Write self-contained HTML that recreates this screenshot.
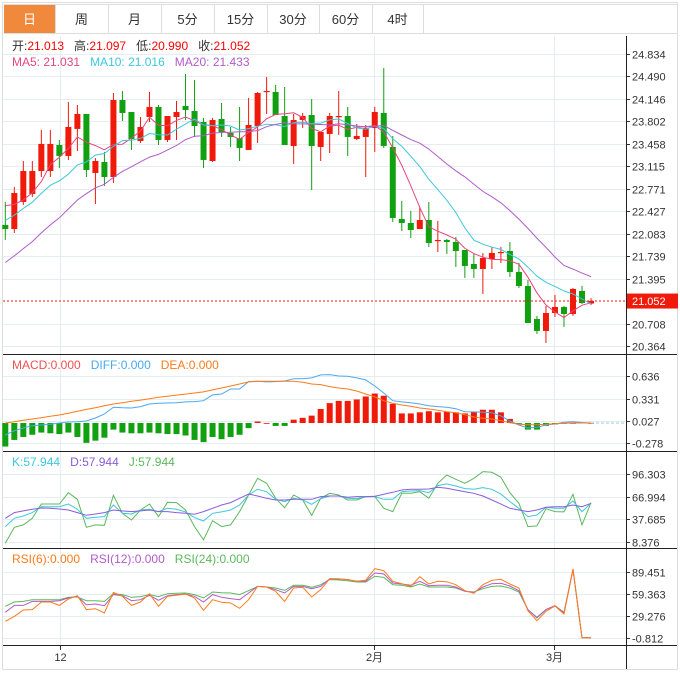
<!DOCTYPE html>
<html><head><meta charset="utf-8"><style>
body{margin:0;background:#fff;font-family:"Liberation Sans","Noto Sans CJK SC",sans-serif;}
svg{display:block}
text{font-family:"Liberation Sans","Noto Sans CJK SC",sans-serif;white-space:pre;}
</style></head><body>
<svg id="c" width="680" height="679" viewBox="0 0 680 679">
<rect x="2.5" y="2.5" width="675" height="667" fill="#fff" stroke="#ddd"/>
<g>
<rect x="4" y="4" width="51" height="30" fill="#f0893c"/>
<text x="29.5" y="24" fill="#fff" font-size="13" text-anchor="middle">日</text>
<line x1="4" y1="33.5" x2="677" y2="33.5" stroke="#ddd"/>
<line x1="4" y1="4.5" x2="677" y2="4.5" stroke="#ddd"/>
<g fill="#333" font-size="13" text-anchor="middle">
<text x="81.5" y="24">周</text>
<text x="134.5" y="24">月</text>
<text x="187.5" y="24">5分</text>
<text x="240.5" y="24">15分</text>
<text x="293" y="24">30分</text>
<text x="345.5" y="24">60分</text>
<text x="397.5" y="24">4时</text>
</g>
<g stroke="#ddd"><line x1="55.5" y1="4" x2="55.5" y2="33"/><line x1="108.5" y1="4" x2="108.5" y2="33"/><line x1="161.5" y1="4" x2="161.5" y2="33"/><line x1="214.5" y1="4" x2="214.5" y2="33"/><line x1="267.5" y1="4" x2="267.5" y2="33"/><line x1="319.5" y1="4" x2="319.5" y2="33"/><line x1="372.5" y1="4" x2="372.5" y2="33"/><line x1="423.5" y1="4" x2="423.5" y2="33"/></g>
</g>
<g id="grid"></g>
<g id="marks"></g>
<g font-size="12">
<text x="12" y="50" fill="#333" xml:space="preserve">开:<tspan fill="#f00">21.013</tspan>   高:<tspan fill="#f00">21.097</tspan>   低:<tspan fill="#f00">20.990</tspan>   收:<tspan fill="#f00">21.052</tspan></text>
<text x="12" y="66" xml:space="preserve"><tspan fill="#e8467c">MA5: 21.031</tspan>   <tspan fill="#3cc8dc">MA10: 21.016</tspan>   <tspan fill="#b05cc8">MA20: 21.433</tspan></text>
<text x="12" y="369" xml:space="preserve"><tspan fill="#f05050">MACD:0.000</tspan>   <tspan fill="#4aa8f0">DIFF:0.000</tspan>   <tspan fill="#ff7a1a">DEA:0.000</tspan></text>
<text x="12" y="466" xml:space="preserve"><tspan fill="#3cc8dc">K:57.944</tspan>   <tspan fill="#8a5cd8">D:57.944</tspan>   <tspan fill="#5cb85c">J:57.944</tspan></text>
<text x="12" y="563" xml:space="preserve"><tspan fill="#ff7a1a">RSI(6):0.000</tspan>   <tspan fill="#b05cc8">RSI(12):0.000</tspan>   <tspan fill="#5cb85c">RSI(24):0.000</tspan></text>
</g>
</svg>
<script>
const opens=[22.217,22.155,22.569,22.691,23.043,23.043,23.441,23.273,23.687,23.916,23.013,23.181,22.951,24.130,23.946,23.502,23.870,24.023,23.518,23.870,24.038,23.962,23.793,23.196,23.839,23.625,23.548,23.365,23.732,24.253,24.253,23.885,23.426,23.824,23.900,23.411,23.610,23.870,23.885,23.533,23.564,23.702,23.931,23.411,22.308,22.247,22.155,22.293,21.972,21.987,21.956,21.834,21.619,21.543,21.696,21.788,21.818,21.497,21.283,20.777,20.594,20.869,20.961,20.854,21.206,21.013];
const highs=[22.569,22.798,23.196,23.196,23.671,23.671,23.518,24.099,24.054,23.916,23.242,23.334,24.237,24.268,23.946,23.870,24.253,24.054,23.885,24.115,24.528,24.436,23.855,23.855,24.084,23.717,24.023,24.161,24.253,24.482,24.360,24.329,23.916,23.931,24.145,23.640,23.931,24.268,24.023,23.763,23.747,24.023,24.620,23.579,22.584,22.431,22.492,22.569,22.278,22.002,22.033,21.834,21.773,21.788,21.880,21.880,21.956,21.635,21.374,20.824,20.976,21.145,20.976,21.252,21.283,21.097];
const lows=[21.987,22.094,22.523,22.645,22.951,22.951,23.089,23.212,23.349,22.951,22.538,22.814,22.860,23.809,23.365,23.472,23.793,23.441,23.487,23.518,23.824,23.564,23.089,23.181,23.564,23.411,23.196,23.365,23.472,23.916,23.900,23.441,23.150,23.702,22.752,23.196,23.319,23.594,23.273,23.518,22.951,23.334,23.395,22.262,22.124,22.017,22.155,21.880,21.803,21.773,21.574,21.405,21.405,21.160,21.543,21.635,21.420,21.252,20.716,20.548,20.410,20.808,20.655,20.824,21.007,20.990];
const closes=[22.155,22.706,23.043,23.043,23.457,23.457,23.273,23.717,23.916,23.058,23.196,22.951,24.130,23.931,23.533,23.717,24.023,23.518,23.885,23.946,23.977,23.732,23.212,23.824,23.640,23.564,23.395,23.747,24.237,24.268,23.900,23.441,23.824,23.885,23.426,23.640,23.885,23.885,23.564,23.579,23.702,23.946,23.426,22.324,22.247,22.140,22.293,21.941,21.987,21.956,21.818,21.589,21.543,21.711,21.788,21.803,21.497,21.283,20.716,20.594,20.869,20.961,20.854,21.237,21.022,21.052];
const priorCloses=[20.7,20.8,20.9,20.8,21.0,21.1,21.0,21.2,21.1,21.4,21.9,22.0,22.1,22.1,22.2,22.6,22.7,22.5,22.6];
const priceTicks=[24.834,24.490,24.146,23.802,23.458,23.115,22.771,22.427,22.083,21.739,21.395,20.708,20.364];
const macdHist=[-0.32,-0.23,-0.19,-0.16,-0.13,-0.14,-0.15,-0.13,-0.19,-0.27,-0.24,-0.20,-0.09,-0.13,-0.14,-0.14,-0.13,-0.14,-0.15,-0.15,-0.17,-0.23,-0.26,-0.19,-0.22,-0.19,-0.16,-0.07,0.02,0.00,-0.04,-0.04,0.045,0.07,0.10,0.19,0.27,0.30,0.30,0.32,0.36,0.40,0.37,0.26,0.13,0.13,0.145,0.16,0.145,0.155,0.145,0.13,0.155,0.18,0.18,0.145,0.055,-0.01,-0.09,-0.09,-0.04,-0.02,0,0,0.005,0];
const difValues=[-0.163,-0.105,-0.068,-0.037,-0.027,-0.018,0,0.014,0.018,0.027,0.068,0.122,0.214,0.208,0.204,0.222,0.258,0.268,0.272,0.276,0.286,0.290,0.303,0.381,0.394,0.462,0.462,0.562,0.567,0.558,0.562,0.571,0.602,0.602,0.612,0.653,0.657,0.639,0.635,0.612,0.585,0.503,0.408,0.303,0.286,0.276,0.258,0.235,0.222,0.214,0.194,0.154,0.150,0.146,0.140,0.095,0.027,-0.027,-0.068,-0.058,-0.027,-0.014,0.010,0.018,0.007,0];
const deaValues=[0,0.018,0.037,0.054,0.072,0.091,0.109,0.133,0.159,0.184,0.208,0.234,0.258,0.276,0.294,0.311,0.329,0.350,0.364,0.379,0.393,0.408,0.422,0.449,0.476,0.503,0.530,0.558,0.567,0.567,0.567,0.567,0.567,0.554,0.530,0.521,0.494,0.476,0.462,0.435,0.394,0.354,0.303,0.268,0.245,0.227,0.204,0.190,0.173,0.154,0.140,0.113,0.082,0.064,0.054,0.031,0.004,-0.018,-0.023,-0.023,-0.018,-0.010,-0.004,0,0,0];
const macdTicks=[0.636,0.331,0.027,-0.278];
const kValues=[27.9,38.8,41.8,46.2,54.0,54.0,54.0,57.5,50.5,38.8,40.1,41.0,56.2,45.3,44.4,49.7,50.5,47.5,51.9,50.5,47.1,39.7,35.3,45.3,47.1,49.7,56.2,69.3,76.7,73.6,63.6,60.6,64.9,62.7,57.1,64.5,68.0,68.0,64.9,64.5,67.1,67.1,63.6,63.6,73.6,74.5,75.0,72.3,81.5,83.7,81.0,77.6,76.7,78.9,76.7,70.6,60.6,51.9,41.0,43.1,53.2,51.9,51.9,61.4,47.5,58.4];
const dValues=[38.8,46.2,48.4,50.5,52.3,51.9,51.0,49.7,46.2,42.7,44.4,46.2,49.7,48.4,47.5,48.4,49.7,47.5,47.5,46.2,45.3,44.0,47.5,51.9,56.2,59.3,64.9,70.6,68.0,64.9,62.7,62.7,63.6,63.6,63.6,67.1,68.0,68.0,66.2,67.1,67.1,67.5,70.2,72.8,75.8,76.7,76.7,77.1,79.3,78.0,75.8,73.6,71.5,68.0,62.7,57.4,51.9,49.7,47.5,49.7,53.2,54.0,54.0,56.2,54.0,58.4];
const jValues=[6.1,27.0,30.1,38.8,57.5,57.5,57.5,72.3,63.6,27.0,30.1,29.6,68.9,45.3,36.6,49.7,57.5,41.0,59.7,59.3,49.7,27.9,10.5,35.7,27.9,30.1,47.5,69.3,91.1,84.5,64.9,52.7,69.3,62.7,42.7,64.9,71.5,69.3,62.7,62.7,67.1,67.1,51.9,47.5,71.5,71.5,73.6,64.9,84.5,95.4,89.8,84.5,91.1,99.8,98.9,92.4,72.3,58.4,27.9,28.8,51.4,47.5,47.1,70.2,30.1,59.3];
const kdjTicks=[96.303,66.994,37.685,8.376];
const rsi6=[22.3,29.0,37.6,38.1,48.4,48.4,43.9,52.5,57.0,38.1,39.4,33.6,61.5,56.1,43.9,48.4,59.7,42.6,56.1,57.5,59.3,53.9,37.2,51.6,48.0,47.1,39.9,51.6,69.6,68.7,62.9,49.3,67.4,68.3,55.2,65.1,80.0,80.0,78.7,76.4,77.8,93.5,90.8,76.4,73.2,69.6,82.7,72.8,76.4,75.9,71.9,63.8,60.2,71.9,77.8,79.1,72.8,67.4,36.7,23.2,35.8,43.0,32.2,93.1,0,0];
const rsi12=[34.5,43.9,43.9,49.3,49.3,49.3,50.2,53.9,56.1,44.8,45.7,43.5,58.4,57.0,50.2,51.6,57.5,50.7,57.0,58.4,59.3,56.1,48.4,58.4,54.8,53.0,51.6,60.6,69.6,68.7,65.1,60.6,69.6,69.6,66.5,69.6,80.0,79.6,78.7,76.4,76.4,87.7,86.3,74.2,72.8,71.0,76.4,70.5,71.0,71.0,68.7,62.9,61.5,68.7,73.2,73.7,70.1,63.8,38.1,26.8,38.1,43.5,33.6,92.2,0,0];
const rsi24=[42.6,48.4,49.3,51.6,51.6,51.6,51.6,54.8,55.2,50.2,50.2,49.3,59.7,58.4,54.8,55.7,58.4,55.7,59.7,60.2,60.6,58.4,53.9,62.0,61.1,60.6,58.4,63.8,69.6,68.7,67.4,64.2,71.0,71.0,68.3,71.9,78.7,78.2,77.3,75.5,75.5,83.2,81.8,71.9,71.0,68.7,72.8,68.7,68.7,68.7,67.4,62.9,62.0,66.5,69.6,70.1,67.4,62.0,38.1,27.7,38.1,43.5,34.5,93.1,0,0];
const rsiTicks=[89.451,59.363,29.276,-0.812];
const xLabels=["12","2月","3月"];

const NS="http://www.w3.org/2000/svg";
const grid=document.getElementById('grid'), marks=document.getElementById('marks');
function el(tag,attrs,parent){const e=document.createElementNS(NS,tag);for(const k in attrs)e.setAttribute(k,attrs[k]);(parent||marks).appendChild(e);return e;}
const xOf=i=>5.3+9.011*i;
const yPrice=p=>54+(24.834-p)*65.32;
const yMacd=v=>421-(v-0.027)*73.6;
const yKdj=v=>474.3+(96.303-v)*0.765;
const yRsi=v=>571.7+(89.451-v)*0.739;
const AX=626;

function axis(ticks,fy,name){
  ticks.forEach(t=>{
    const y=Math.round(fy(t))+0.5;
    const g=el('line',{x1:3,y1:y,x2:AX,y2:y,stroke:'#e6edf2'},grid);
    
    
    el('line',{x1:AX,y1:y,x2:AX+4,y2:y,stroke:'#333'},grid);
    const tx=el('text',{x:AX+6,y:y+4,'font-size':11,fill:'#333'},grid);
    tx.textContent=t.toFixed(3);
    
    
  });
}
axis(priceTicks,yPrice,'price');
axis(macdTicks,yMacd,'macd');
axis(kdjTicks,yKdj,'kdj');
axis(rsiTicks,yRsi,'rsi');
[60.5,374.5,554.5].forEach((xx,k)=>{
  const v=el('line',{x1:xx,y1:36,x2:xx,y2:646,stroke:'#e6edf2'},grid);
  
  
  el('line',{x1:xx,y1:646,x2:xx,y2:650,stroke:'#333'},grid);
  const t=el('text',{x:xx,y:661,'font-size':11,fill:'#333','text-anchor':'middle'},grid);
  t.textContent=xLabels[k];
  
  
});
[354.5,451.5,548.5,645.5].forEach(y=>{el('line',{x1:3,y1:y,x2:677,y2:y,stroke:'#222'},grid);});
el('line',{x1:AX+0.5,y1:36,x2:AX+0.5,y2:669,stroke:'#222'},grid);

for(let i=0;i<closes.length;i++){
  const up=closes[i]>=opens[i];
  const col=up?'#f01a0a':'#10a010';
  const x=xOf(i);
  const w=el('line',{x1:x,y1:yPrice(highs[i]),x2:x,y2:yPrice(lows[i]),stroke:col,'stroke-width':1});
  
  
  const t=Math.min(yPrice(opens[i]),yPrice(closes[i]));
  const h=Math.max(1.2,Math.abs(yPrice(opens[i])-yPrice(closes[i])));
  const b=el('rect',{x:x-3,y:t,width:6,height:h,fill:col});
  
  
}
const all=priorCloses.concat(closes);
function ma(n){return closes.map((c,i)=>{const j=i+priorCloses.length;let s=0;for(let k=j-n+1;k<=j;k++)s+=all[k];return s/n;});}
function line(vals,fy,color,name){
  const d=vals.map((v,i)=>(i?'L':'M')+xOf(i).toFixed(1)+' '+fy(v).toFixed(1)).join('');
  const p=el('path',{d:d,fill:'none',stroke:color,'stroke-width':1});
  
  
}
line(ma(5),yPrice,'#e8467c','ma5-line');
line(ma(10),yPrice,'#3cc8dc','ma10-line');
line(ma(20),yPrice,'#b05cc8','ma20-line');
const lp=yPrice(closes[closes.length-1]);
const dl=el('line',{x1:3,y1:lp,x2:AX,y2:lp,stroke:'#f01a0a','stroke-dasharray':'2,2'});


const lr=el('rect',{x:AX+1,y:lp-7.5,width:51,height:15,fill:'#f01a0a'});


const lt=el('text',{x:AX+6,y:lp+4,'font-size':11,fill:'#fff'});
lt.textContent=closes[closes.length-1].toFixed(3);
const z=yMacd(0);
macdHist.forEach((v,i)=>{
  const y=yMacd(v);
  const r=el('rect',{x:xOf(i)-3,y:Math.min(y,z),width:6,height:Math.max(0.8,Math.abs(y-z)),fill:v>=0?'#f01a0a':'#10a010'});
  
  
});
el('line',{x1:xOf(65),y1:z,x2:AX,y2:z,stroke:'#9cd','stroke-dasharray':'3,2'});
line(difValues,yMacd,'#4aa8f0','dif-line');
line(deaValues,yMacd,'#ff7a1a','dea-line');
line(jValues,yKdj,'#5cb85c','j-line');
line(kValues,yKdj,'#3cc8dc','k-line');
line(dValues,yKdj,'#8a5cd8','d-line');
line(rsi24,yRsi,'#5cb85c','rsi24-line');
line(rsi12,yRsi,'#b05cc8','rsi12-line');
line(rsi6,yRsi,'#ff7a1a','rsi6-line');
</script>
</body></html>
